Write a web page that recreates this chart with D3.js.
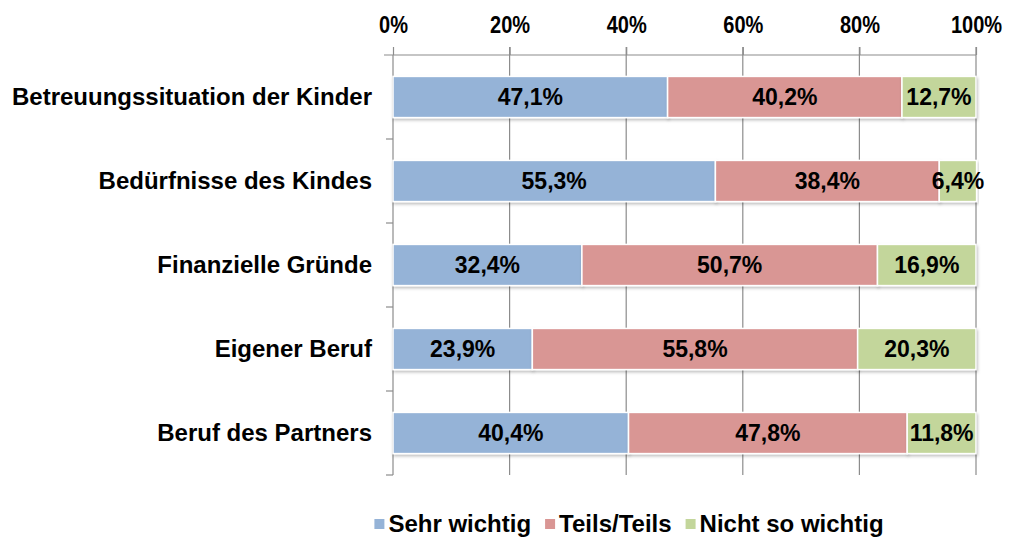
<!DOCTYPE html>
<html>
<head>
<meta charset="utf-8">
<script src="https://cdn.jsdelivr.net/npm/d3@7"></script>
<style>
    body { margin: 0; background: #fff; }
    text { font-family: "Liberation Sans", Arial, sans-serif; font-weight: bold; fill: #000; }
</style>
</head>
<body>
<div id="graph"></div>
<script>
'use strict';

// chart data
const categories = ['Betreuungssituation der Kinder', 'Bedürfnisse des Kindes', 'Finanzielle Gründe', 'Eigener Beruf', 'Beruf des Partners'];
const seriesNames = ['Sehr wichtig', 'Teils/Teils', 'Nicht so wichtig'];
const sehrWichtig = [47.1, 55.3, 32.4, 23.9, 40.4];
const teilsTeils = [40.2, 38.4, 50.7, 55.8, 47.8];
const nichtSoWichtig = [12.7, 6.4, 16.9, 20.3, 11.8];
const tickValues = [0, 20, 40, 60, 80, 100];
const colors = ['#95B3D7', '#D99694', '#C3D69B'];

const measurements = {
    width: 1014,
    height: 540,
    left: 393,
    right: 976,
    top: 55,
    bottom: 475
};

let svg = d3.select('#graph')
    .append('svg')
    .attr('width', measurements.width)
    .attr('height', measurements.height);

// soft shadow under bars
let defs = svg.append('defs');
let filter = defs.append('filter').attr('id', 'shadow')
    .attr('x', '-5%').attr('y', '-10%').attr('width', '110%').attr('height', '140%');
filter.append('feDropShadow')
    .attr('dx', 1).attr('dy', 2).attr('stdDeviation', 1.5)
    .attr('flood-color', '#000').attr('flood-opacity', 0.25);

let xScale = d3.scaleLinear()
    .domain([0, 100])
    .range([measurements.left, measurements.right]);

let yScale = d3.scaleBand()
    .domain(categories)
    .range([measurements.top, measurements.bottom])
    .paddingInner(0.51)
    .paddingOuter(0.255);

// gridlines
svg.append('g')
    .selectAll('line')
    .data(tickValues.slice(1))
    .enter()
    .append('line')
    .attr('x1', (d) => xScale(d))
    .attr('x2', (d) => xScale(d))
    .attr('y1', measurements.top - 8)
    .attr('y2', measurements.bottom)
    .attr('stroke', '#8c8c8c')
    .attr('stroke-width', 1.2);

// top axis
let xAxis = d3.axisTop(xScale)
    .tickValues(tickValues)
    .tickSize(8)
    .tickFormat((d) => d + '%');
let gx = svg.append('g')
    .attr('transform', 'translate(0,' + measurements.top + ')')
    .call(xAxis);
gx.select('.domain').remove();
gx.append('line')
    .attr('x1', measurements.left - 9)
    .attr('x2', measurements.right)
    .attr('stroke', '#8c8c8c')
    .attr('stroke-width', 1.2);
gx.selectAll('.tick line').attr('stroke', '#8c8c8c').attr('stroke-width', 1.2);
gx.selectAll('.tick text')
    .attr('y', 0)
    .attr('transform', 'translate(0,-22) scale(0.87,1)')
    .style('font-size', '23px')
    .style('font-family', '"Liberation Sans", Arial, sans-serif')
    .style('font-weight', 'bold');

// left axis with boundary ticks
let boundaries = categories.map((c) => yScale(c) + yScale.bandwidth() + yScale.step() * yScale.paddingInner() / 2);
let gy = svg.append('g');
gy.append('line')
    .attr('x1', measurements.left)
    .attr('x2', measurements.left)
    .attr('y1', measurements.top)
    .attr('y2', measurements.bottom)
    .attr('stroke', '#8c8c8c')
    .attr('stroke-width', 1.2);
gy.selectAll('.btick')
    .data(boundaries)
    .enter()
    .append('line')
    .attr('x1', measurements.left - 7)
    .attr('x2', measurements.left)
    .attr('y1', (d) => d)
    .attr('y2', (d) => d)
    .attr('stroke', '#8c8c8c')
    .attr('stroke-width', 1.2);

// category labels
svg.append('g')
    .selectAll('text')
    .data(categories)
    .enter()
    .append('text')
    .attr('x', measurements.left - 21)
    .attr('y', (d) => yScale(d) + yScale.bandwidth() / 2)
    .attr('dy', '0.35em')
    .attr('text-anchor', 'end')
    .style('font-size', '24px')
    .text((d) => d);

// stacked bars
let rows = categories.map((c, i) => ({
    category: c,
    'Sehr wichtig': sehrWichtig[i],
    'Teils/Teils': teilsTeils[i],
    'Nicht so wichtig': nichtSoWichtig[i]
}));
let stacked = d3.stack().keys(seriesNames)(rows);

let layers = svg.append('g')
    .selectAll('g')
    .data(stacked)
    .enter()
    .append('g')
    .attr('fill', (d, i) => colors[i]);

layers.selectAll('rect')
    .data((d) => d)
    .enter()
    .append('rect')
    .attr('x', (d) => xScale(d[0]))
    .attr('y', (d) => yScale(d.data.category))
    .attr('width', (d) => xScale(d[1]) - xScale(d[0]))
    .attr('height', yScale.bandwidth())
    .attr('stroke', '#fff')
    .attr('stroke-width', 1.5)
    .attr('filter', 'url(#shadow)');

// value labels
layers.selectAll('text')
    .data((d) => d)
    .enter()
    .append('text')
    .attr('x', (d) => (xScale(d[0]) + xScale(d[1])) / 2)
    .attr('y', (d) => yScale(d.data.category) + yScale.bandwidth() / 2)
    .attr('dy', '0.35em')
    .attr('text-anchor', 'middle')
    .style('font-size', '23px')
    .text((d) => (d[1] - d[0]).toFixed(1).replace('.', ',') + '%');

// legend
let legend = svg.append('g');
let x = 0;
seriesNames.forEach((name, i) => {
    let item = legend.append('g').attr('transform', 'translate(' + x + ',0)');
    item.append('rect')
        .attr('x', 0).attr('y', -5)
        .attr('width', 10).attr('height', 10)
        .attr('fill', colors[i]);
    let t = item.append('text')
        .attr('x', 14).attr('dy', '0.35em')
        .style('font-size', '24px')
        .text(name);
    x += 14 + t.node().getComputedTextLength() + 14;
});
let legendWidth = x - 14;
legend.attr('transform', 'translate(' + (629 - legendWidth / 2) + ',524)');
</script>
</body>
</html>
